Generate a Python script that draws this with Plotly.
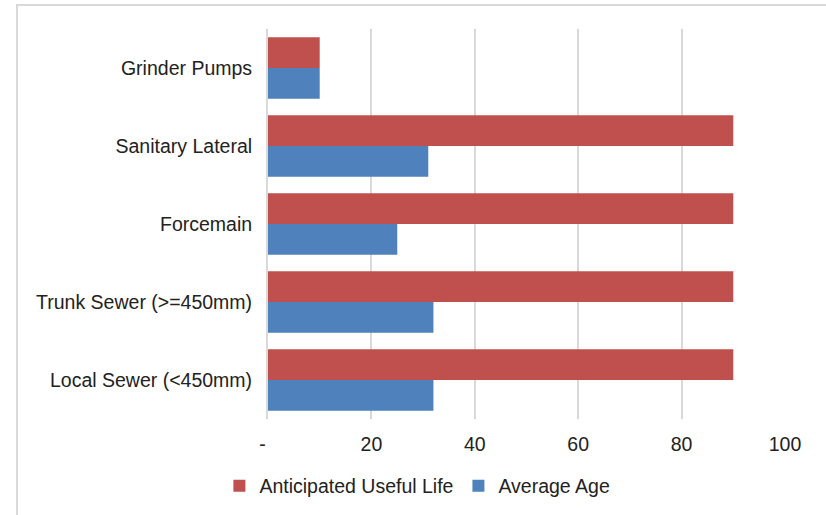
import plotly.graph_objects as go

# Sewer asset classes, listed top to bottom
categories = [
    "Grinder Pumps",
    "Sanitary Lateral",
    "Forcemain",
    "Trunk Sewer (>=450mm)",
    "Local Sewer (<450mm)",
]
useful_life = [10, 90, 90, 90, 90]
average_age = [10, 31, 25, 32, 32]

x_tick_vals = [0, 20, 40, 60, 80, 100]
# accounting-style zero: dash followed by padding spaces
x_tick_text = ["-\u00a0\u00a0", "20", "40", "60", "80", "100"]

RED = "#C0504D"
BLUE = "#4F81BD"
TEXT = "#222222"
GRID = "#D9D9D9"
FONT = "Liberation Sans, Arial, sans-serif"

fig = go.Figure()
fig.add_trace(go.Bar(
    y=categories, x=useful_life, orientation="h",
    name="Anticipated Useful Life", marker=dict(color=RED, line=dict(width=0)),
))
fig.add_trace(go.Bar(
    y=categories, x=average_age, orientation="h",
    name="Average Age", marker=dict(color=BLUE, line=dict(width=0)),
))

L, T, W, H = 268, 29, 517, 390
fig.update_layout(
    width=826, height=515,
    margin=dict(l=L, r=826 - L - W, t=T, b=515 - T - H, pad=0,
                autoexpand=False),
    paper_bgcolor="white", plot_bgcolor="white",
    font=dict(family=FONT, size=19.5, color=TEXT),
    barmode="group", bargap=0.21, bargroupgap=0,
    showlegend=True,
    legend=dict(
        orientation="h", x=-0.094, xanchor="left",
        y=-0.172, yanchor="middle",
        font=dict(size=19.5, color=TEXT),
        traceorder="normal", itemclick=False,
    ),
    xaxis=dict(
        range=[0, 100], tickvals=x_tick_vals, ticktext=x_tick_text,
        showgrid=True, gridcolor=GRID, gridwidth=1.5,
        zeroline=False, showline=False, ticks="",
        ticklabelstandoff=11, automargin=False,
    ),
    yaxis=dict(
        type="category", autorange="reversed",
        showgrid=False, zeroline=False,
        showline=True, linecolor=GRID, linewidth=2,
        ticks="", ticklabelstandoff=10, automargin=False,
    ),
    shapes=[dict(
        type="rect", xref="paper", yref="paper", layer="below",
        x0=(17 - L) / W, x1=(840 - L) / W,
        y0=(T + H - 530) / H, y1=(T + H - 5) / H,
        line=dict(color=GRID, width=2), fillcolor="rgba(0,0,0,0)",
    )],
)

fig.write_html("out.html")
